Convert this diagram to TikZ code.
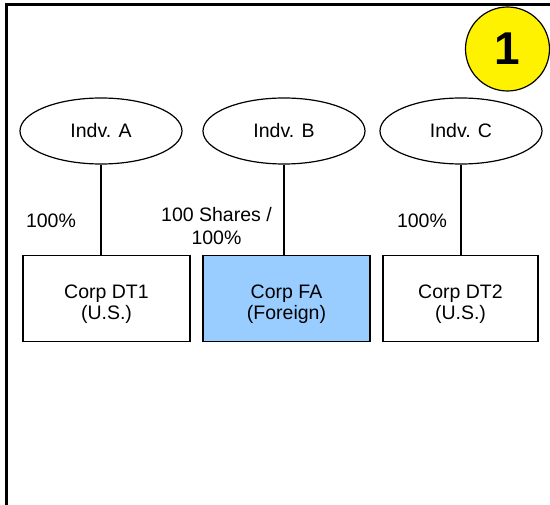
\documentclass[tikz,border=0pt]{standalone}
\usepackage{fontspec}
\setmainfont{Liberation Sans}
\usetikzlibrary{shapes.geometric}
\definecolor{lightblue}{RGB}{153,204,255}
\begin{document}
\begin{tikzpicture}[x=1pt,y=-1pt,
  txt/.style={font=\fontsize{19.5}{21.5}\selectfont},
  person/.style={draw, ellipse, line width=1.2pt, minimum width=162pt, minimum height=66pt, inner sep=0pt, txt},
  corp/.style={draw, rectangle, line width=1.2pt, minimum width=167pt, minimum height=86pt, align=center, text height=46pt, text depth=3pt, inner sep=0pt, txt},
  lbl/.style={align=center, inner sep=0pt, anchor=base, txt},
  link/.style={line width=1.2pt}]
\useasboundingbox (0,0) rectangle (550,505);
\clip (0,0) rectangle (550,505);
\draw[line width=2.5pt] (560,4.5) -- (6.7,4.5) -- (6.7,520);
\node[draw, circle, fill=yellow, line width=1.2pt, minimum size=84pt, inner sep=0pt, font=\fontsize{46}{48}\selectfont\bfseries] (num) at (507.5,49) {1};
\node[person] (ia) at (101,131) {Indv. A};
\node[person] (ib) at (284,131) {Indv. B};
\node[person] (ic) at (461,131) {Indv. C};
\node[corp] (ca) at (106.5,298.5) {Corp DT1\\(U.S.)};
\node[corp, fill=lightblue] (cb) at (286.5,298.5) {Corp FA\\(Foreign)};
\node[corp, minimum width=155pt] (cc) at (460.5,298.5) {Corp DT2\\(U.S.)};
\draw[link] (ia.south) -- (ia.south |- ca.north);
\draw[link] (ib.south) -- (ib.south |- cb.north);
\draw[link] (ic.south) -- (ic.south |- cc.north);
\node[lbl] (la) at (51,228) {100\%};
\node[lbl, font=\fontsize{19.5}{23.3}\selectfont] (lb) at (216.5,245) {100 Shares /\\100\%};
\node[lbl] (lc) at (422,228) {100\%};
\end{tikzpicture}
\end{document}
